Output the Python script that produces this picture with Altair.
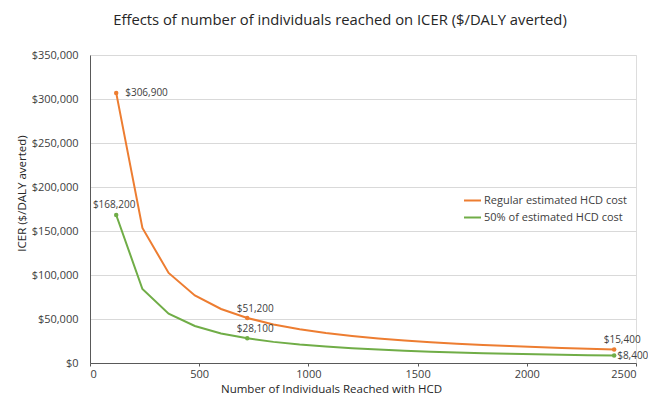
import altair as alt
import pandas as pd

individuals = [120, 240, 360, 480, 600, 720, 840, 960, 1080, 1200,
               1320, 1440, 1560, 1680, 1800, 1920, 2040, 2160, 2280, 2400]
regular = [306900, 153500, 102300, 76700, 61400, 51200, 43800, 38400, 34100, 30700,
           27900, 25600, 23600, 21900, 20500, 19200, 18100, 17100, 16200, 15400]
half = [168200, 84100, 56100, 42100, 33600, 28100, 24000, 21000, 18700, 16800,
        15300, 14000, 12900, 12000, 11200, 10500, 9900, 9300, 8900, 8400]
series_names = ["Regular estimated HCD cost", "50% of estimated HCD cost"]
colors = ["#ED7D31", "#70AD47"]
labeled_n = [120, 720, 2400]

rows = []
for n, r, h in zip(individuals, regular, half):
    rows.append({"n": n, "icer": r, "series": series_names[0]})
    rows.append({"n": n, "icer": h, "series": series_names[1]})
df = pd.DataFrame(rows)
df["label"] = df["icer"].map(lambda v: "${:,.0f}".format(v))
df["pos"] = "above"
df.loc[(df["n"] == 120) & (df["series"] == series_names[0]), "pos"] = "right"
df.loc[(df["n"] == 2400) & (df["series"] == series_names[1]), "pos"] = "right"
df.loc[(df["n"] == 120) & (df["series"] == series_names[1]), "pos"] = "top"

FONT = "Open Sans"

x = alt.X("n:Q", title="Number of Individuals Reached with HCD",
          scale=alt.Scale(domain=[0, 2500], nice=False),
          axis=alt.Axis(values=[0, 500, 1000, 1500, 2000, 2500], format="d",
                        grid=False, ticks=True, tickSize=3, tickColor="#595959",
                        domainColor="#595959", labelColor="#404040", labelFontSize=11,
                        labelFont=FONT, titleFont=FONT, titleFontSize=11.5,
                        titleFontWeight="normal", titleColor="#262626",
                        titleX=241, titlePadding=4, labelPadding=2))
y = alt.Y("icer:Q", title="ICER ($/DALY averted)",
          scale=alt.Scale(domain=[0, 350000], nice=False),
          axis=alt.Axis(values=list(range(0, 350001, 50000)), format="$,.0f",
                        grid=True, gridColor="#D9D9D9", gridWidth=1, ticks=False,
                        domainColor="#595959", labelColor="#404040", labelFontSize=11,
                        labelFont=FONT, titleFont=FONT, titleFontSize=11.5,
                        titleFontWeight="normal", titleColor="#262626",
                        labelPadding=12, titlePadding=4, titleY=138))
color = alt.Color("series:N", title=None,
                  scale=alt.Scale(domain=series_names, range=colors),
                  legend=alt.Legend(orient="none", legendX=373, legendY=136,
                                    symbolType="stroke", symbolStrokeWidth=2,
                                    symbolSize=289, labelFont=FONT, labelFontSize=11,
                                    labelColor="#404040", rowPadding=2, labelOffset=2))

base = alt.Chart(df)
lbl = base.transform_filter(alt.FieldOneOfPredicate(field="n", oneOf=labeled_n))
lines = base.mark_line(strokeWidth=2).encode(x=x, y=y, color=color)
pts = lbl.mark_point(filled=True, size=20, opacity=1).encode(
    x="n:Q", y="icer:Q",
    color=alt.Color("series:N", scale=alt.Scale(domain=series_names, range=colors), legend=None))
txt = dict(font=FONT, fontSize=10, color="#404040")
lab_above = lbl.transform_filter(alt.datum.pos == "above").mark_text(
    align="center", dy=-9, dx=8, **txt).encode(x="n:Q", y="icer:Q", text="label:N")
lab_top = lbl.transform_filter(alt.datum.pos == "top").mark_text(
    align="center", dy=-10, dx=-2, **txt).encode(x="n:Q", y="icer:Q", text="label:N")
lab_right_a = lbl.transform_filter(
    (alt.datum.pos == "right") & (alt.datum.n == 120)).mark_text(
    align="left", dx=9, **txt).encode(x="n:Q", y="icer:Q", text="label:N")
lab_right_b = lbl.transform_filter(
    (alt.datum.pos == "right") & (alt.datum.n == 2400)).mark_text(
    align="left", dx=3, **txt).encode(x="n:Q", y="icer:Q", text="label:N")

chart = alt.layer(lines, pts, lab_above, lab_top, lab_right_a, lab_right_b).properties(
    width=546, height=308,
    title=alt.Title("Effects of number of individuals reached on ICER ($/DALY averted)",
                    font=FONT, fontSize=14.8, fontWeight="normal", color="#262626",
                    anchor="middle", dx=-23, offset=21),
    autosize=alt.AutoSizeParams(type="none"),
    padding={"left": 82, "top": 47, "right": 12, "bottom": 32},
).configure_view(stroke=None).configure(background="white")

chart.save("out.html", embed_options={"renderer": "svg", "actions": False})
